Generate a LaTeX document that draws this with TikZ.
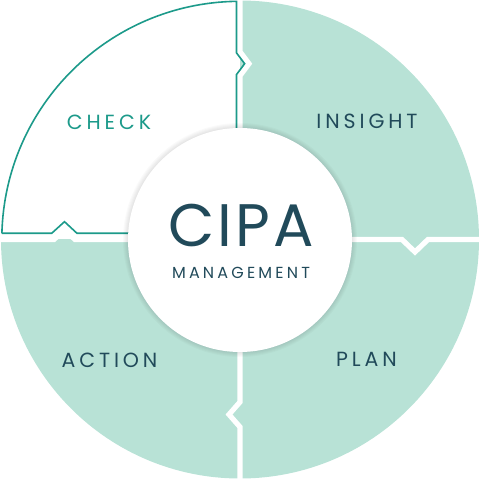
\documentclass[tikz,border=0pt]{standalone}
\usepackage{fontspec}
\setmainfont{Poppins}
\newfontfamily\stepfont[LetterSpace=19]{Poppins}
\newfontfamily\titlefont[LetterSpace=5]{Poppins}
\newfontfamily\subfont[LetterSpace=20]{Poppins}
\definecolor{mint}{RGB}{184,226,214}
\definecolor{cipateal}{RGB}{28,154,138}
\definecolor{cipanavy}{RGB}{33,74,90}
\tikzset{
  steplabel/.style={text=cipanavy, inner sep=0pt, font=\stepfont\fontsize{20.5}{20.5}\selectfont},
  gapline/.style={white, line width=5.2pt, line join=miter, miter limit=10},
}

\begin{document}
\begin{tikzpicture}[x=1pt,y=1pt]
\useasboundingbox (-240,-239.5) rectangle (240,239.5);
\fill[mint] (0,0) circle (239);
\begin{scope}
  \clip (0,0) circle (240);
  \fill[white] (0,0) rectangle (-241,241);
\end{scope}
\draw[gapline] (0,241) -- (0,187.8) -- (9,175.8) -- (0,163.8) -- (0,-162.5) -- (-11,-175) -- (0,-187.5) -- (0,-241);
\draw[gapline] (-241,0) -- (-186,0) -- (-175.5,10) -- (-165,0) -- (162,0) -- (175,-12.5) -- (188,0) -- (241,0);
\draw[cipateal, line width=1.6pt, line join=miter] (178.5:238.2) -- (-188.3,6.2) -- (-175.5,17.8) -- (-163,6.2) -- (-3.5,6.2)
  -- (-3.5,164.97) -- (4.6,175.8) -- (-3.5,186.63) -- (90.84:238.2) arc[start angle=90.84, end angle=178.5, radius=238.2];
\foreach \r in {113,114,115,116,117}
  \fill[black, opacity=0.02] (0,-0.5) circle (\r);
\fill[white] (0,-0.5) circle (112);
\node[text=cipanavy, inner sep=0pt, font=\titlefont\fontsize{60}{60}\selectfont] (cipa) at (1,14) {CIPA};
\node[text=cipanavy, inner sep=0pt, font=\subfont\fontsize{16}{16}\selectfont] (mgmt) at (1,-33) {MANAGEMENT};
\node[steplabel, text=cipateal] (check) at (-131,117.5) {CHECK};
\node[steplabel] (insight) at (127,118) {INSIGHT};
\node[steplabel] (action) at (-130.5,-121) {ACTION};
\node[steplabel] (plan) at (126.5,-120) {PLAN};
\end{tikzpicture}
\end{document}
